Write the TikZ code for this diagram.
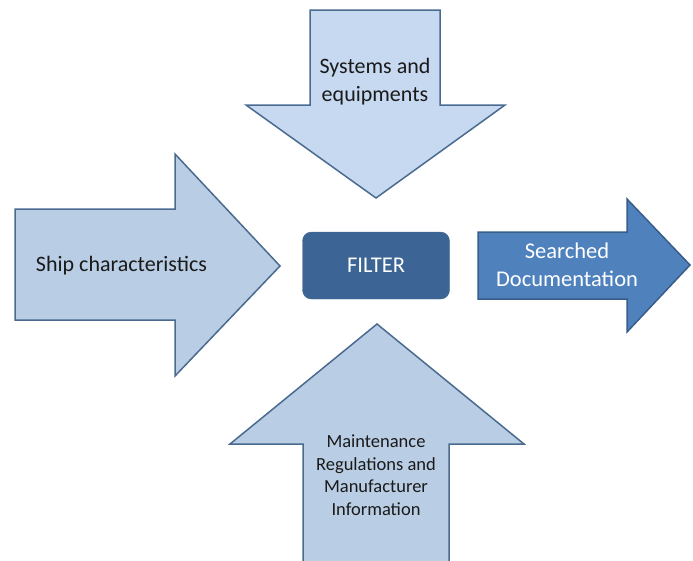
\documentclass[tikz,border=0pt]{standalone}
\usepackage{fontspec}
\setmainfont{Carlito}
\definecolor{lightA}{HTML}{C6D9F1}
\definecolor{lightB}{HTML}{B9CDE5}
\definecolor{edgeL}{HTML}{4A6A90}
\definecolor{filterC}{HTML}{3C6595}
\definecolor{outC}{HTML}{4F81BD}
\definecolor{outE}{HTML}{385D8A}
\definecolor{txt}{HTML}{1A1A1A}
\tikzset{
  inarrow/.style={draw=edgeL, line width=1.5pt, line join=miter},
  lbl/.style={text=txt, align=center, inner sep=0pt},
}
\begin{document}
\begin{tikzpicture}[x=1pt,y=-1pt]
\useasboundingbox (0,0) rectangle (693,560);
% top arrow
\draw[inarrow, fill=lightA] (310,10) -- (440,10) -- (440,105) -- (505,105) -- (376,198) -- (246,105) -- (310,105) -- cycle;
\node[lbl, font=\fontsize{22}{28}\selectfont] (top) at (375,82) {Systems and\\equipments};
% left arrow
\draw[inarrow, fill=lightB] (15,209) -- (175,209) -- (175,154) -- (280,266) -- (175,376) -- (175,320) -- (15,320) -- cycle;
\node[lbl, font=\fontsize{22}{28}\selectfont] (left) at (121.5,266) {Ship characteristics};
% bottom arrow
\draw[inarrow, fill=lightB] (303,565) -- (303,444) -- (230,444) -- (377,324) -- (524,444) -- (449,444) -- (449,565) -- cycle;
\node[lbl, font=\fontsize{18.5}{22.5}\selectfont] (bottom) at (376,475) {Maintenance\\Regulations and\\Manufacturer\\Information};
% filter
\node[draw=filterC, fill=filterC, rounded corners=9pt, minimum width=147pt, minimum height=67pt, text=white, font=\fontsize{22.5}{28}\selectfont] (filter) at (376,265.5) {FILTER};
% right arrow
\draw[draw=outE, line width=1.5pt, fill=outC] (478,232) -- (627,232) -- (627,199) -- (690,265) -- (627,332) -- (627,299) -- (478,299) -- cycle;
\node[lbl, text=white, font=\fontsize{22.5}{28}\selectfont] (right) at (567,265) {Searched\\Documentation};
\end{tikzpicture}
\end{document}
